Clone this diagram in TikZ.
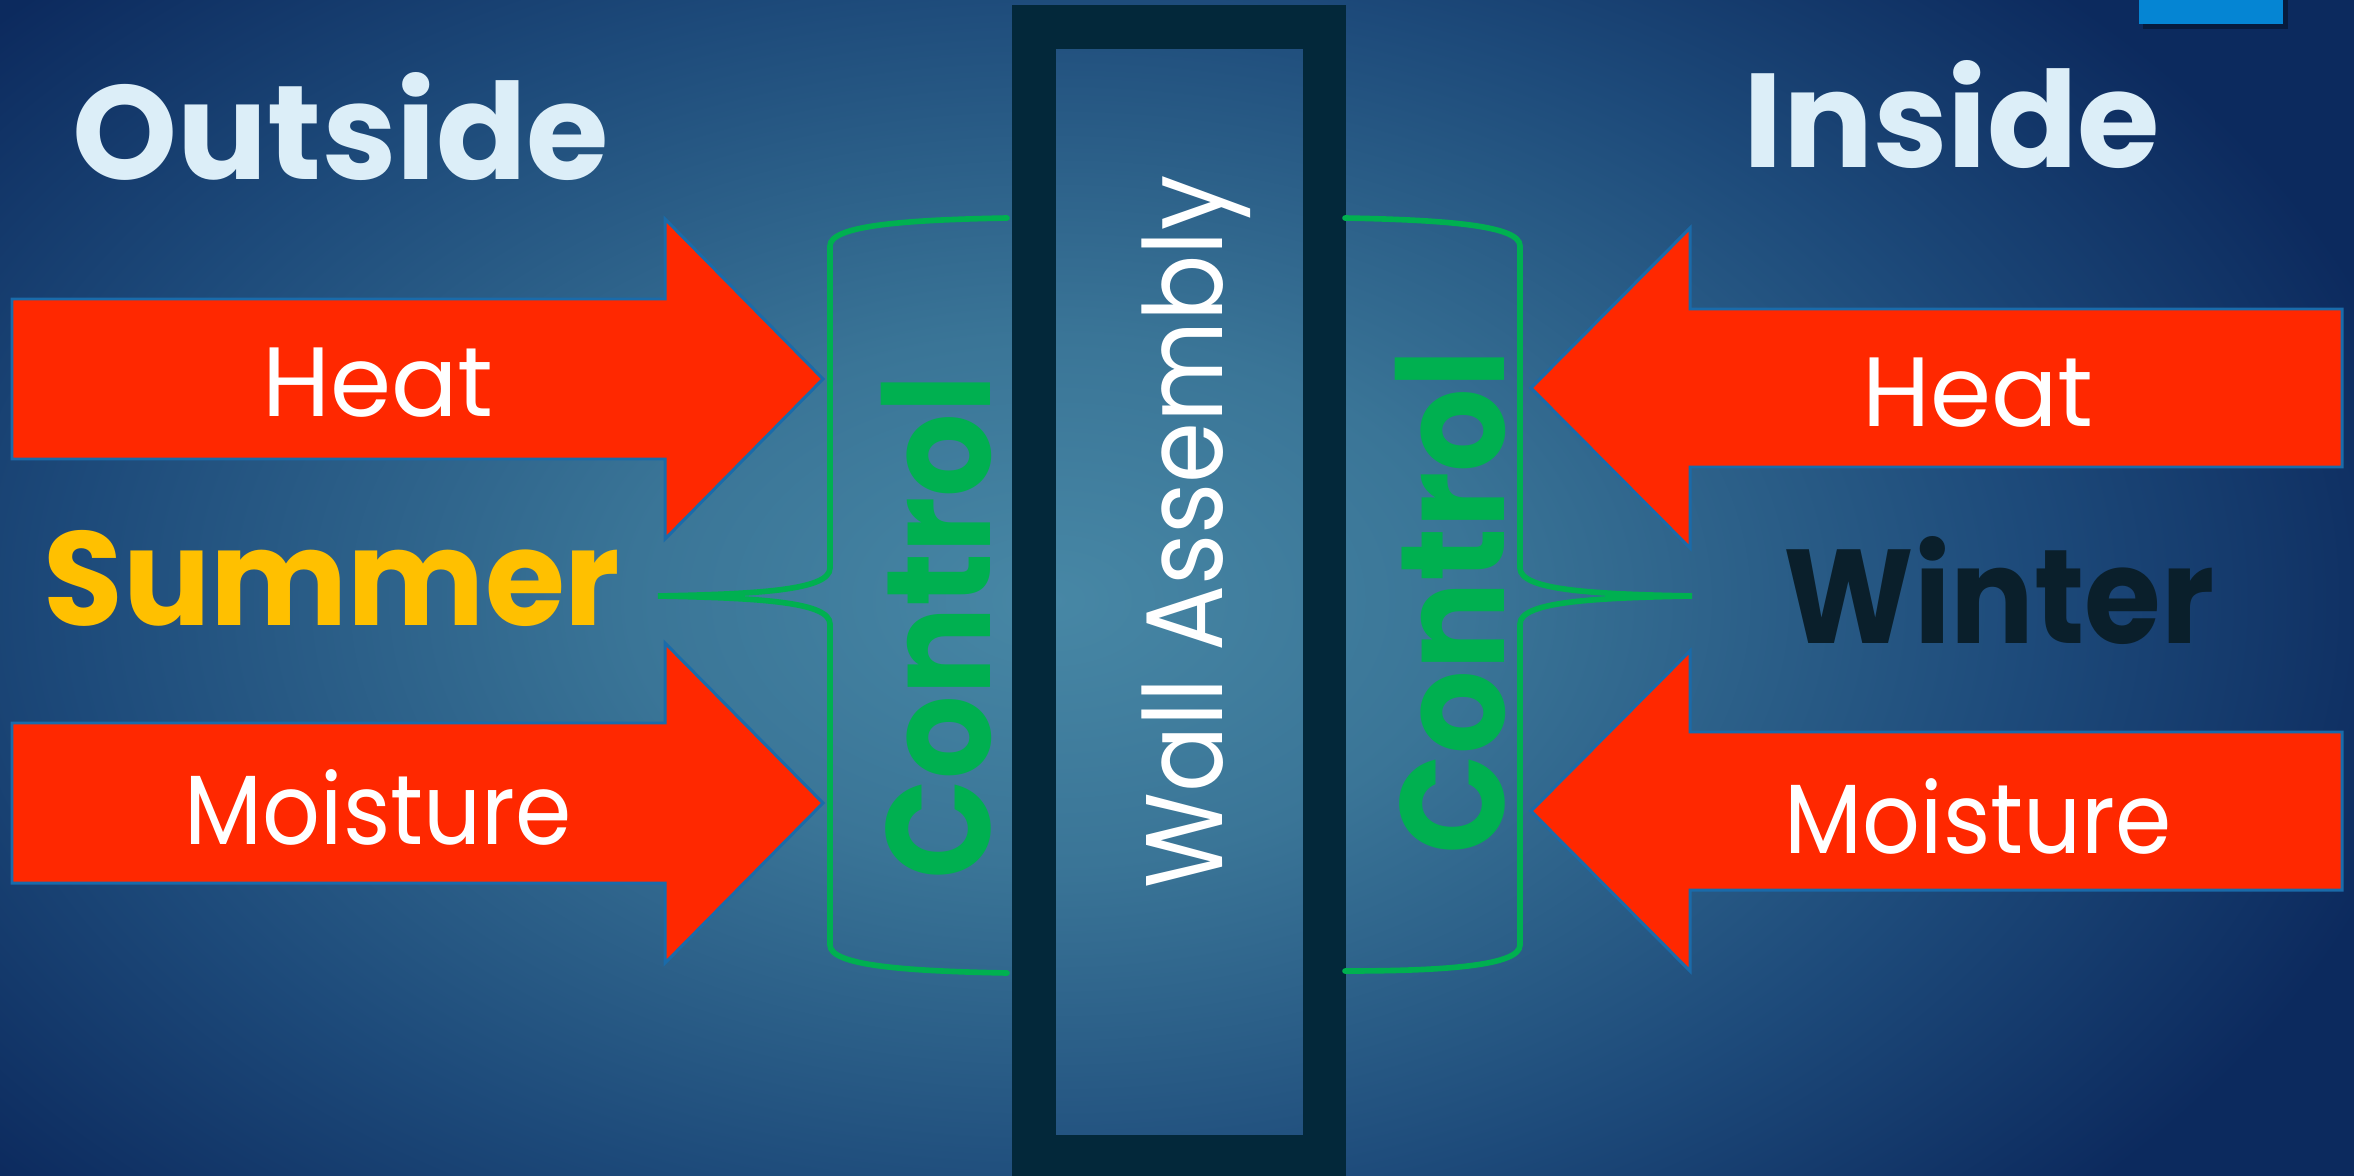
\documentclass[tikz,border=0pt]{standalone}
\usepackage{fontspec}
\setmainfont{Poppins}
\usetikzlibrary{positioning}

\definecolor{bgin}{HTML}{4787A5}
\definecolor{bgmid}{HTML}{3A7597}
\definecolor{bgdeep}{HTML}{1D4A7A}
\definecolor{bgout}{HTML}{0C2A5E}
\definecolor{paletext}{HTML}{DCEEF8}
\definecolor{summerc}{HTML}{FFC000}
\definecolor{winterc}{HTML}{0A1F2B}
\definecolor{wallc}{HTML}{03283A}
\definecolor{ctrlgreen}{HTML}{00B050}
\definecolor{arrowred}{HTML}{FF2800}
\definecolor{arrowline}{HTML}{1A6BAA}
\definecolor{tabblue}{HTML}{0585D3}

\pgfdeclareradialshading{slidebg}{\pgfpoint{0bp}{0bp}}{color(0bp)=(bgin); color(6bp)=(bgmid); color(14bp)=(bgdeep); color(20bp)=(bgout); color(50bp)=(bgout)}

\begin{document}
\begin{tikzpicture}[x=0.01cm, y=-0.01cm,
	title/.style={font=\fontsize{38}{44}\selectfont\bfseries, inner sep=0pt},
	arrowtext/.style={font=\fontsize{28}{32}\selectfont, text=white, inner sep=0pt},
	ctrltext/.style={font=\fontsize{42}{48}\selectfont\bfseries, text=ctrlgreen, rotate=90, anchor=base, inner sep=0pt},
	warrow/.style={fill=arrowred, draw=arrowline, line width=0.85pt, line join=miter},
	brace/.style={draw=ctrlgreen, line width=1.6pt, line cap=round}]
	\useasboundingbox (0,0) rectangle (2354,1176);
	\clip (0,0) rectangle (2354,1176);
	% background
	\shade[shading=slidebg] (-700,-500) rectangle (2800,1700);
	% tab in the corner
	\fill[black, opacity=0.35] (2143,0) rectangle (2288,29);
	\fill[tabblue] (2139,0) rectangle (2283,24);
	% the wall
	\draw[wallc, line width=0.43cm] (1034,27) rectangle (1324,1157);
	\node[font=\fontsize{31}{36}\selectfont, text=white, rotate=90, anchor=base, inner sep=0pt]
		(wallassembly) at (1222,532) {\scalebox{0.9}[1]{Wall Assembly}};
	% headings
	\node[title, text=paletext] (outside) at (341,127) {Outside};
	\node[title, text=paletext] (inside) at (1952,115) {Inside};
	\node[title, text=summerc] (summer) at (332,578) {\scalebox{0.97}[1]{Summer}};
	\node[title, text=winterc] (winter) at (1999,591) {\scalebox{0.93}[1]{Winter}};
	% arrows from outside
	\foreach \yc/\lbl/\nm/\sx in {379/Heat/heatL/1, 803/Moisture/moistL/0.92} {
		\draw[warrow] (12,\yc-80) -- (665,\yc-80) -- (665,\yc-160) -- (823,\yc)
			-- (665,\yc+160) -- (665,\yc+80) -- (12,\yc+80) -- cycle;
		\node[arrowtext] (\nm) at (378,\yc+4) {\scalebox{\sx}[1]{\lbl}};
	}
	% arrows from inside
	\foreach \yc/\lbl/\nm/\sx in {388/Heat/heatR/1, 811/Moisture/moistR/0.92} {
		\draw[warrow] (2342,\yc-79) -- (1690,\yc-79) -- (1690,\yc-160) -- (1531,\yc)
			-- (1690,\yc+160) -- (1690,\yc+79) -- (2342,\yc+79) -- cycle;
		\node[arrowtext] (\nm) at (1978,\yc+5) {\scalebox{\sx}[1]{\lbl}};
	}
	% braces
	\draw[brace] (1007,218) .. controls (900,220) and (830,226) .. (830,246) -- (830,568)
		.. controls (830,590) and (760,594) .. (658,596)
		.. controls (760,598) and (830,602) .. (830,624) -- (830,945)
		.. controls (830,965) and (900,971) .. (1007,973);
	\draw[brace] (1345,218) .. controls (1450,220) and (1520,226) .. (1520,246) -- (1520,568)
		.. controls (1520,590) and (1590,594) .. (1692,596)
		.. controls (1590,598) and (1520,602) .. (1520,624) -- (1520,945)
		.. controls (1520,965) and (1450,971) .. (1345,971);
	\node[ctrltext] (controlL) at (990,627) {\scalebox{0.89}[1]{Control}};
	\node[ctrltext] (controlR) at (1504,602) {\scalebox{0.89}[1]{Control}};
\end{tikzpicture}
\end{document}
